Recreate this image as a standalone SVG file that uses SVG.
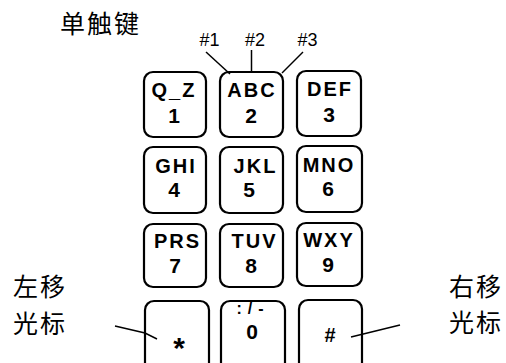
<svg xmlns="http://www.w3.org/2000/svg" width="506" height="363" viewBox="0 0 506 363">
<style>
.key{fill:none;stroke:#000;stroke-width:2.2}
.lt{font-family:"Liberation Sans",Arial,sans-serif;font-weight:bold;font-size:20px;letter-spacing:2px;text-anchor:middle;fill:#000}
.dg{font-family:"Liberation Sans",Arial,sans-serif;font-weight:bold;font-size:21px;text-anchor:middle;fill:#000}
.cn{font-family:"Noto Sans CJK SC",sans-serif;font-size:25px;letter-spacing:2px;fill:#000}
.lb{font-family:"Liberation Sans",Arial,sans-serif;font-size:18px;text-anchor:middle;fill:#000}
.ln{fill:none;stroke:#000;stroke-width:1.5}
</style>
<rect width="506" height="363" fill="#fff"/>
<text class="cn" x="60" y="33">单触键</text>
<text class="cn" x="13" y="296">左移</text>
<text class="cn" x="13" y="333">光标</text>
<text class="cn" x="449" y="296">右移</text>
<text class="cn" x="449" y="332">光标</text>
<text class="lb" x="209.5" y="46">#1</text>
<text class="lb" x="255" y="46">#2</text>
<text class="lb" x="307.5" y="46">#3</text>
<g id="connectors">
<line class="ln" x1="206" y1="52" x2="230" y2="74"/>
<line class="ln" x1="251.5" y1="50" x2="251.5" y2="73"/>
<line class="ln" x1="303" y1="52" x2="282" y2="73"/>
<polyline class="ln" points="115,326 145,333 157,339"/>
<line class="ln" x1="351" y1="337" x2="400" y2="325"/>
</g>
<g id="k1"><rect class="key" x="144" y="72" width="62" height="65" rx="9"/><text class="lt" x="174" y="97">Q_Z</text><text class="dg" x="174" y="123">1</text></g>
<g id="k2"><rect class="key" x="220" y="72" width="63" height="65" rx="9"/><text class="lt" x="252" y="97">ABC</text><text class="dg" x="251" y="123">2</text></g>
<g id="k3"><rect class="key" x="297" y="71" width="64" height="65" rx="9"/><text class="lt" x="330" y="96">DEF</text><text class="dg" x="329" y="122">3</text></g>
<g id="k4"><rect class="key" x="144" y="147" width="62" height="66" rx="9"/><text class="lt" x="176" y="173">GHI</text><text class="dg" x="174" y="197">4</text></g>
<g id="k5"><rect class="key" x="220" y="147" width="63" height="66" rx="9"/><text class="lt" x="255.5" y="173">JKL</text><text class="dg" x="249" y="197">5</text></g>
<g id="k6"><rect class="key" x="297" y="146" width="65" height="66" rx="9"/><text class="lt" x="329" y="172">MNO</text><text class="dg" x="328" y="196">6</text></g>
<g id="k7"><rect class="key" x="144" y="224" width="62" height="63" rx="9"/><text class="lt" x="177.5" y="248">PRS</text><text class="dg" x="175" y="273">7</text></g>
<g id="k8"><rect class="key" x="220" y="224" width="63" height="63" rx="9"/><text class="lt" x="254.5" y="248">TUV</text><text class="dg" x="251" y="273">8</text></g>
<g id="k9"><rect class="key" x="297" y="223" width="65" height="63" rx="9"/><text class="lt" x="329" y="247">WXY</text><text class="dg" x="328" y="272">9</text></g>
<g id="kstar"><rect class="key" x="145" y="301" width="64" height="75" rx="9"/><text class="dg" x="179" y="358" style="font-size:30px">*</text></g>
<g id="k0"><rect class="key" x="221" y="301" width="64" height="75" rx="9"/><text class="lt" x="253" y="314" style="font-size:16px;letter-spacing:6px">:/-</text><text class="dg" x="252" y="339">0</text></g>
<g id="khash"><rect class="key" x="299" y="300" width="63" height="76" rx="9"/><text class="dg" x="330" y="342" style="font-size:20px">#</text></g>
</svg>
